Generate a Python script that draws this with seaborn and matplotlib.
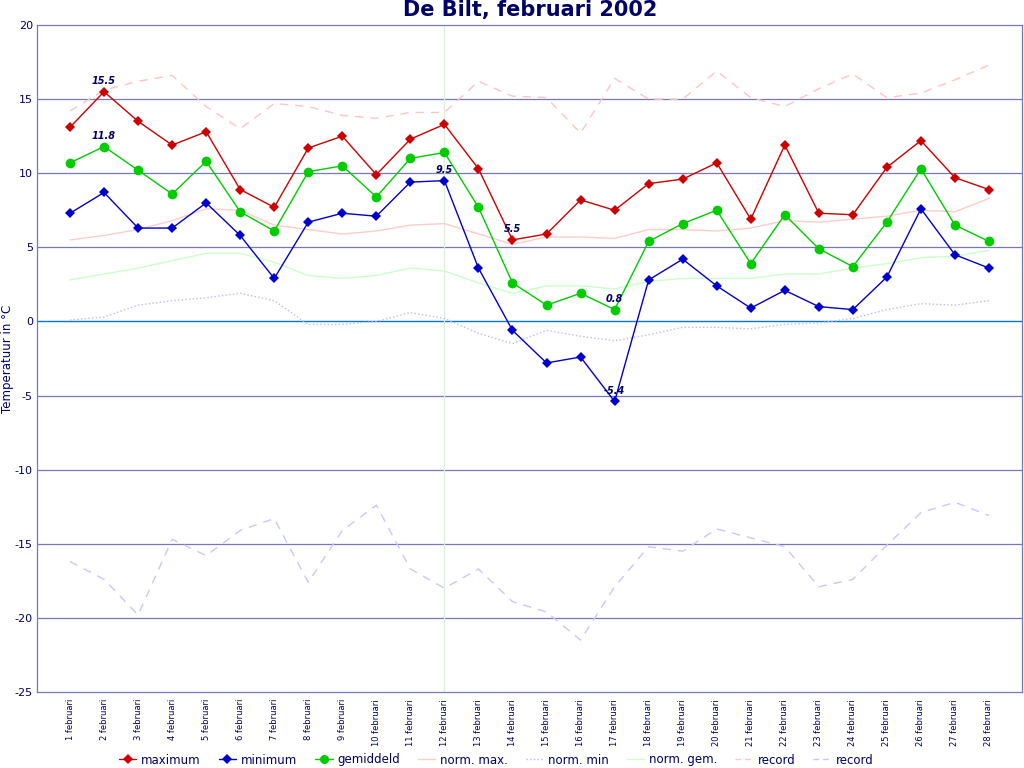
import matplotlib
matplotlib.use("Agg")
import matplotlib.pyplot as plt
import seaborn as sns
import pandas as pd
import numpy as np
from matplotlib.lines import Line2D

days = list(range(1, 29))
day_labels = [f"{d} februari" for d in days]

maximum = [13.1, 15.5, 13.5, 11.9, 12.8, 8.9, 7.7, 11.7, 12.5, 9.9, 12.3, 13.3, 10.3, 5.5,
           5.9, 8.2, 7.5, 9.3, 9.6, 10.7, 6.9, 11.9, 7.3, 7.2, 10.4, 12.2, 9.7, 8.9]
minimum = [7.3, 8.7, 6.3, 6.3, 8.0, 5.8, 2.9, 6.7, 7.3, 7.1, 9.4, 9.5, 3.6, -0.6,
           -2.8, -2.4, -5.4, 2.8, 4.2, 2.4, 0.9, 2.1, 1.0, 0.8, 3.0, 7.6, 4.5, 3.6]
gemiddeld = [10.7, 11.8, 10.2, 8.6, 10.8, 7.4, 6.1, 10.1, 10.5, 8.4, 11.0, 11.4, 7.7, 2.6,
             1.1, 1.9, 0.8, 5.4, 6.6, 7.5, 3.9, 7.2, 4.9, 3.7, 6.7, 10.3, 6.5, 5.4]
norm_max = [5.5, 5.8, 6.2, 6.8, 7.6, 7.5, 6.5, 6.2, 5.9, 6.1, 6.5, 6.6, 5.9, 5.2,
            5.7, 5.7, 5.6, 6.2, 6.2, 6.1, 6.3, 6.8, 6.7, 6.9, 7.1, 7.5, 7.4, 8.3]
norm_min = [0.1, 0.3, 1.1, 1.4, 1.6, 1.9, 1.4, -0.2, -0.2, 0.0, 0.6, 0.2, -0.8, -1.5,
            -0.6, -1.0, -1.3, -0.9, -0.4, -0.4, -0.5, -0.2, -0.1, 0.2, 0.8, 1.2, 1.1, 1.4]
norm_gem = [2.8, 3.2, 3.6, 4.1, 4.6, 4.6, 4.0, 3.1, 2.9, 3.1, 3.6, 3.4, 2.6, 1.9,
            2.4, 2.4, 2.2, 2.7, 2.9, 2.9, 2.9, 3.2, 3.2, 3.6, 3.9, 4.3, 4.4, 4.8]
record_max = [14.2, 15.6, 16.2, 16.6, 14.5, 13.0, 14.7, 14.5, 13.9, 13.7, 14.1, 14.1, 16.2, 15.2,
              15.1, 12.7, 16.4, 15.0, 15.0, 16.9, 15.1, 14.5, 15.7, 16.7, 15.1, 15.4, 16.3, 17.3]
record_min = [-16.2, -17.4, -19.8, -14.7, -15.8, -14.1, -13.3, -17.6, -14.1, -12.4, -16.7, -18.0, -16.7, -18.9,
              -19.6, -21.5, -17.9, -15.2, -15.5, -14.0, -14.6, -15.2, -17.9, -17.4, -15.1, -12.9, -12.2, -13.1]

annotations = [(2, 15.5), (2, 11.8), (12, 9.5), (14, 5.5), (17, 0.8), (17, -5.4)]

df = pd.DataFrame({
    "dag": days,
    "maximum": maximum, "minimum": minimum, "gemiddeld": gemiddeld,
    "norm_max": norm_max, "norm_min": norm_min, "norm_gem": norm_gem,
    "record_max": record_max, "record_min": record_min,
})

sns.set_theme(style="white")
plt.rcParams['font.family'] = ['DejaVu Sans']

NAVY = "#000066"
fig = plt.figure(figsize=(10.24, 7.68), dpi=100)
ax = fig.add_axes([37/1024, 1-692/768, (1022-37)/1024, (692-25)/768])

# grid lines
for v in range(-25, 21, 5):
    if v == 0:
        ax.axhline(v, color="#0077dd", lw=1.0, zorder=1)
    elif -25 < v < 20:
        ax.axhline(v, color="#7777bb", lw=0.9, zorder=1)
ax.axvline(12, color="#ddeedd", lw=0.9, zorder=1)

# background normal / record lines
sns.lineplot(data=df, x="dag", y="norm_max", ax=ax, color="#ffcccc", lw=1.0, zorder=2)
sns.lineplot(data=df, x="dag", y="norm_min", ax=ax, color="#bbbbff", lw=1.0, linestyle=":", zorder=2)
sns.lineplot(data=df, x="dag", y="norm_gem", ax=ax, color="#ccffcc", lw=1.0, zorder=2)
sns.lineplot(data=df, x="dag", y="record_max", ax=ax, color="#ffc4c4", lw=1.0, linestyle=(0, (6, 5)), zorder=2)
sns.lineplot(data=df, x="dag", y="record_min", ax=ax, color="#c8c8ff", lw=1.0, linestyle=(0, (6, 5)), zorder=2)

# main series
sns.lineplot(data=df, x="dag", y="maximum", ax=ax, color="#cc0000", lw=1.0, marker="D",
             markersize=5.2, markeredgewidth=0, zorder=4)
sns.lineplot(data=df, x="dag", y="minimum", ax=ax, color="#0000cc", lw=1.0, marker="D",
             markersize=5.2, markeredgewidth=0, zorder=4)
sns.lineplot(data=df, x="dag", y="gemiddeld", ax=ax, color="#00cc00", lw=1.0, marker="o",
             markersize=7, markeredgewidth=0, zorder=4)

for d, v in annotations:
    ax.annotate(f"{v}", (d, v), xytext=(0, 4), textcoords="offset points", ha="center", va="bottom",
                fontsize=7, fontweight="bold", fontstyle="italic", color=NAVY, zorder=5)

ax.set_xlim(0.03, 28.97)
ax.set_ylim(-25, 20)
ax.set_yticks(range(-25, 21, 5))
ax.set_yticklabels([str(v) for v in range(-25, 21, 5)], color=NAVY, fontsize=8)
ax.set_xticks(days)
ax.set_xticklabels(day_labels, rotation=90, color=NAVY, fontsize=6)
ax.tick_params(axis="x", length=3, width=0.8, color="#7777bb", pad=2)
ax.tick_params(axis="y", length=0, pad=3)
ax.set_xlabel("")
ax.set_ylabel("Temperatuur in °C", color=NAVY, fontsize=8.5)
ax.yaxis.set_label_coords(-23/985, 0.5)
for s in ax.spines.values():
    s.set_color("#7777bb")
    s.set_linewidth(0.9)

fig.text(530/1024, 1-10/768, "De Bilt, februari 2002", ha="center", va="center",
         fontsize=15, fontweight="bold", color=NAVY)

handles = [
    Line2D([], [], color="#cc0000", marker="D", markersize=5, markeredgewidth=0, lw=1),
    Line2D([], [], color="#0000cc", marker="D", markersize=5, markeredgewidth=0, lw=1),
    Line2D([], [], color="#00cc00", marker="o", markersize=6.5, markeredgewidth=0, lw=1),
    Line2D([], [], color="#ffcccc", lw=1),
    Line2D([], [], color="#bbbbff", lw=1, linestyle=":"),
    Line2D([], [], color="#ccffcc", lw=1),
    Line2D([], [], color="#ffc4c4", lw=1, linestyle=(0, (4, 3))),
    Line2D([], [], color="#c8c8ff", lw=1, linestyle=(0, (4, 3))),
]
labels = ["maximum", "minimum", "gemiddeld", "norm. max.", "norm. min", "norm. gem.", "record", "record"]
leg = fig.legend(handles, labels, loc="center", bbox_to_anchor=(496/1024, 1-760/768), ncol=8,
                 frameon=False, fontsize=8.5, handlelength=1.5, columnspacing=1.5, handletextpad=0.4)
for t in leg.get_texts():
    t.set_color(NAVY)

fig.savefig("out.png", dpi=100)
